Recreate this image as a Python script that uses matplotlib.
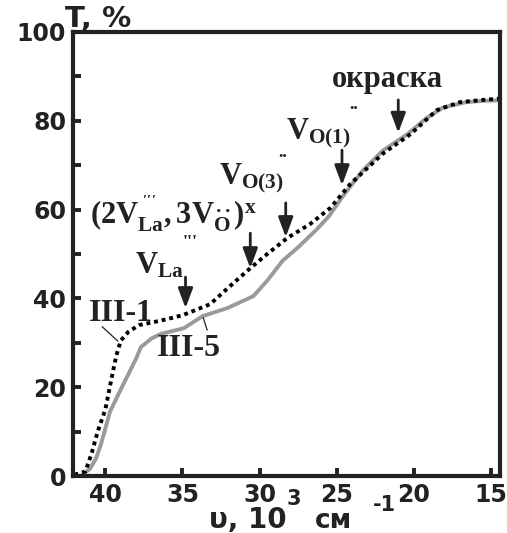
#!/usr/bin/env python3
"""
Transmission spectra T(%) vs wavenumber, samples III-1 and III-5
"""

import matplotlib
matplotlib.use('Agg')
import matplotlib.pyplot as plt

plt.rcParams['font.family'] = ['DejaVu Sans']
plt.rcParams['font.weight'] = 'bold'
plt.rcParams['mathtext.fontset'] = 'custom'
plt.rcParams['mathtext.rm'] = 'Liberation Serif:bold'
plt.rcParams['mathtext.it'] = 'Liberation Serif:bold'
plt.rcParams['mathtext.bf'] = 'Liberation Serif:bold'

# sample III-1 (dotted)
x_iii1 = [42.0, 41.3, 40.9, 40.5, 40.0, 39.6, 39.3, 39.0, 38.5, 37.8, 36.4, 35.0,
          33.2, 32.0, 30.6, 29.5, 28.2, 26.7, 25.4, 24.1, 22.0, 20.2, 18.5, 17.0,
          15.5, 14.4]
y_iii1 = [0.3, 1.0, 5.0, 10.0, 15.0, 22.0, 27.0, 30.5, 32.5, 34.0, 35.0, 36.2,
          38.7, 42.5, 46.8, 50.0, 53.6, 56.8, 60.4, 65.8, 72.6, 77.0, 82.4, 84.2,
          84.7, 85.0]

# sample III-5 (grey)
x_iii5 = [41.5, 41.0, 40.6, 40.3, 39.7, 39.0, 38.5, 38.0, 37.7, 37.0, 36.4, 34.9,
          33.7, 32.1, 30.4, 29.5, 28.5, 27.5, 26.3, 25.5, 24.6, 23.3, 22.0, 20.4,
          19.2, 18.1, 16.6, 15.5, 14.4]
y_iii5 = [0.3, 1.6, 4.0, 7.0, 14.5, 19.5, 23.0, 26.5, 29.0, 31.0, 32.0, 33.3,
          36.0, 37.8, 40.5, 44.0, 48.5, 51.5, 55.5, 58.5, 63.0, 68.8, 73.3, 77.0,
          80.5, 83.0, 84.2, 84.5, 84.6]

x_ticks = [40, 35, 30, 25, 20, 15]
y_ticks = [0, 20, 40, 60, 80, 100]

# defect labels: (text, text x, text y)
defect_labels = [
    ("окраска", 21.7, 89.2),
    (r"$V_{O(1)}$", 26.2, 77.3),
    (r"$V_{O(3)}$", 30.5, 67.0),
    (r"$(2V_{La}^{\,'''},3V_{O}^{..})^{x}$", 35.6, 59.0),
    (r"$V_{La}$", 36.5, 47.3),
]
# charge marks: (text, x, y)
charge_marks = [
    ("..", 23.9, 83.6),
    ("..", 28.5, 72.8),
    ("'''", 34.5, 52.4),
]
# arrows: (x, top, tip)
arrows = [
    (21.0, 84.7, 77.3),
    (24.65, 73.4, 65.5),
    (28.3, 61.5, 53.8),
    (30.6, 54.7, 46.8),
    (34.8, 44.8, 37.8),
]

fig = plt.figure(figsize=(5.07, 5.33), dpi=100)
ax = fig.add_axes([73 / 507, 1 - 476 / 533, 427 / 507, 444 / 533])

ax.plot(x_iii5, y_iii5, color='#9a9a9a', lw=2.8, solid_capstyle='round')
ax.plot(x_iii1, y_iii1, color='black', lw=2.8, linestyle=(0, (1, 1.0)))

ax.set_xlim(42.1, 14.4)
ax.set_ylim(0, 100)
ax.set_xticks(x_ticks)
ax.set_yticks(y_ticks)
ax.set_yticks([10, 30, 50, 70, 90], minor=True)
ax.tick_params(direction='in', length=6, width=2.8, labelsize=17, color='#222222',
               labelcolor='#222222', pad=5)
ax.tick_params(which='minor', direction='in', length=6, width=2.8, color='#222222')
for lab in ax.get_xticklabels() + ax.get_yticklabels():
    lab.set_fontweight('bold')
for sp in ax.spines.values():
    sp.set_linewidth(3.0)
    sp.set_color('#222222')

serif = ['Liberation Serif', 'DejaVu Serif']
for txt, tx, ty in defect_labels:
    ax.text(tx, ty, txt, ha='center', va='center', fontsize=22, family=serif,
            fontweight='bold', color='#222222')
for txt, tx, ty in charge_marks:
    ax.text(tx, ty, txt, ha='center', va='center', fontsize=13, family=serif,
            fontweight='bold', color='#222222')
for ax_x, top, tip in arrows:
    ax.annotate('', xy=(ax_x, tip), xytext=(ax_x, top),
                arrowprops=dict(arrowstyle='-|>,head_length=0.75,head_width=0.28',
                                color='#222222', lw=2.0, mutation_scale=16,
                                shrinkA=0, shrinkB=0))

# curve labels with leader lines
ax.text(39.0, 36.6, "III-1", ha='center', va='center', fontsize=23, family=serif,
        fontweight='bold', color='#222222')
ax.plot([40.2, 39.2], [33.6, 30.4], color='#222222', lw=0.9)
ax.text(34.6, 28.8, "III-5", ha='center', va='center', fontsize=23, family=serif,
        fontweight='bold', color='#222222')
ax.plot([33.65, 33.4], [35.6, 32.9], color='#222222', lw=0.9)

# axis titles
fig.text(98 / 507, 1 - 19 / 533, "T, %", ha='center', va='center', fontsize=21,
         fontweight='bold', color='#222222')
fig.text(287 / 507, 1 - 520 / 533, "υ, 10", ha='right', va='center', fontsize=20,
         fontweight='bold', color='#222222')
fig.text(294 / 507, 1 - 499 / 533, "3", ha='center', va='center', fontsize=15,
         fontweight='bold', color='#222222')
fig.text(334 / 507, 1 - 521 / 533, "см", ha='center', va='center', fontsize=19,
         fontweight='bold', color='#222222')
fig.text(384 / 507, 1 - 505 / 533, "-1", ha='center', va='center', fontsize=15,
         fontweight='bold', color='#222222')

fig.savefig('out.png', dpi=100, facecolor='white')
